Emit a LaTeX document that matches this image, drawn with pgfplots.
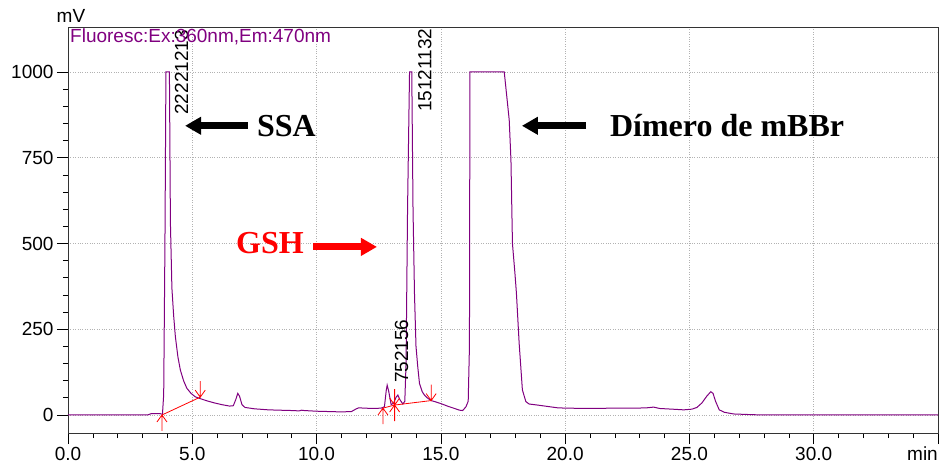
\documentclass[border=0pt]{standalone}
\usepackage{fontspec}
\setmainfont{Liberation Sans}
\newfontfamily\tnr{Liberation Serif}
\usepackage{pgfplots}
\pgfplotsset{compat=1.18}
\usetikzlibrary{arrows.meta}
\definecolor{trace}{RGB}{128,0,128}
\pgfdeclareplotmark{upar}{%
  \pgfpathmoveto{\pgfqpoint{0pt}{0pt}}\pgfpathlineto{\pgfqpoint{0pt}{-16pt}}%
  \pgfpathmoveto{\pgfqpoint{-5pt}{-7pt}}\pgfpathlineto{\pgfqpoint{0pt}{0pt}}\pgfpathlineto{\pgfqpoint{5pt}{-7pt}}%
  \pgfusepathqstroke}
\pgfdeclareplotmark{dnar}{%
  \pgfpathmoveto{\pgfqpoint{0pt}{0pt}}\pgfpathlineto{\pgfqpoint{0pt}{16pt}}%
  \pgfpathmoveto{\pgfqpoint{-5pt}{7pt}}\pgfpathlineto{\pgfqpoint{0pt}{0pt}}\pgfpathlineto{\pgfqpoint{5pt}{7pt}}%
  \pgfusepathqstroke}
\newcommand{\tfont}{\fontsize{19}{22}\selectfont}
\begin{document}
\begin{tikzpicture}
\useasboundingbox (-68pt,-35pt) rectangle (873pt,433pt);
\begin{axis}[
  scale only axis, width=870pt, height=406pt,
  xmin=0, xmax=35, ymin=-52.5, ymax=1131,
  axis line style={black!80, line width=0.8pt},
  tick align=outside, xtick pos=bottom, ytick pos=left,
  xtick={0,5,...,35}, xticklabels={0.0,5.0,10.0,15.0,20.0,25.0,30.0,},
  ytick={0,250,500,750,1000},
  minor x tick num=4, minor y tick num=4,
  major tick length=11pt, minor tick length=5pt,
  every tick/.style={black, line width=0.7pt},
  grid=major, major grid style={gray!60, dotted, line width=0.7pt},
  ticklabel style={font=\tfont},
  /pgf/number format/assume math mode=true,
  /pgf/number format/1000 sep={},
  clip=false,
]
\addplot[trace, line width=1pt] coordinates {
(0,0) (3.2,0) (3.35,4) (3.7,4) (3.8,2) (3.85,60) (3.9,500) (3.94,1000) (4.08,1000)
(4.12,560) (4.18,370) (4.25,290) (4.32,228) (4.42,170) (4.52,131) (4.65,100) (4.78,78)
(4.95,63) (5.12,53) (5.35,47) (5.6,41) (5.9,35) (6.2,30) (6.5,26) (6.65,27) (6.75,45)
(6.83,63) (6.9,55) (7.0,30) (7.12,22) (7.5,18) (8.06,15) (8.5,14) (9.0,13) (9.3,12)
(9.4,14) (9.5,13) (10,11) (10.5,10) (11.0,9) (11.4,10) (11.6,18) (11.7,21) (11.9,20)
(12.3,19) (12.6,20) (12.73,24) (12.8,70) (12.84,87) (12.9,70) (13.0,30) (13.1,35)
(13.2,52) (13.27,58) (13.35,45) (13.47,32) (13.55,40) (13.6,150) (13.66,600)
(13.74,1000) (13.83,1000) (13.88,600) (13.94,350) (14.0,200) (14.07,141) (14.14,92)
(14.25,68) (14.34,58) (14.45,50) (14.61,42) (14.8,38) (15.01,33) (15.3,25) (15.55,19)
(15.75,14) (15.88,13) (16.01,24) (16.1,40) (16.15,200) (16.17,1000) (17.55,1000)
(17.65,930) (17.75,860) (17.82,743) (17.88,500) (17.98,413) (18.04,355) (18.15,209)
(18.28,73) (18.42,39) (18.55,32) (18.88,29) (19.69,21) (20,20) (21,19) (22,20)
(22.9,20) (23.3,21) (23.56,23) (23.8,19) (24.3,17) (24.77,15) (25.1,17) (25.3,22)
(25.5,35) (25.7,55) (25.86,68) (25.95,63) (26.05,40) (26.2,15) (26.4,8) (26.77,3)
(27.5,1) (28,0) (35,0)
};
\addplot[red, line width=0.8pt] coordinates {(3.78,0) (5.32,52)};
\addplot[red, line width=0.8pt] coordinates {(12.67,20) (13.14,29) (14.61,42)};
\addplot[red, line width=0.8pt, only marks, mark=upar] coordinates {(3.78,0) (12.67,20) (13.14,29)};
\addplot[red, line width=0.8pt, only marks, mark=dnar] coordinates {(5.32,52) (13.14,29) (14.61,42)};
\node[rotate=90, anchor=west, inner sep=0pt, font=\tfont] at (axis cs:4.57,875) {22221213};
\node[rotate=90, anchor=west, inner sep=0pt, font=\tfont] at (axis cs:14.36,883) {15121132};
\node[rotate=90, anchor=west, inner sep=0pt, font=\tfont] at (axis cs:13.42,93) {752156};
\node[anchor=base west, inner sep=0pt, font=\tfont, text=trace] at (rel axis cs:0,1) [xshift=2pt, yshift=-16pt] {Fluoresc:Ex:360nm,Em:470nm};
\node[anchor=base, inner sep=0pt, font=\tfont] at (rel axis cs:0,1) [xshift=3pt, yshift=4pt] {mV};
\node[anchor=base east, inner sep=0pt, font=\tfont] at (rel axis cs:1,0) [yshift=-27pt] {min};
\node[anchor=base west, inner sep=0pt, font=\tnr\bfseries\fontsize{32}{36}\selectfont] at (axis cs:7.60,813) {SSA};
\node[anchor=base west, inner sep=0pt, font=\tnr\bfseries\fontsize{32}{36}\selectfont] at (axis cs:21.8,813) {Dímero de mBBr};
\node[anchor=base west, inner sep=0pt, font=\tnr\bfseries\fontsize{32}{36}\selectfont, text=red] at (axis cs:6.76,471) {GSH};
\draw[black, line width=7pt, -{Triangle[length=16pt,width=17pt]}] (axis cs:7.24,843) -- (axis cs:4.71,843);
\draw[black, line width=7pt, -{Triangle[length=16pt,width=17pt]}] (axis cs:20.84,843) -- (axis cs:18.26,843);
\draw[red, line width=7pt, -{Triangle[length=16pt,width=17pt]}] (axis cs:9.86,490) -- (axis cs:12.43,490);
\end{axis}
\end{tikzpicture}
\end{document}
